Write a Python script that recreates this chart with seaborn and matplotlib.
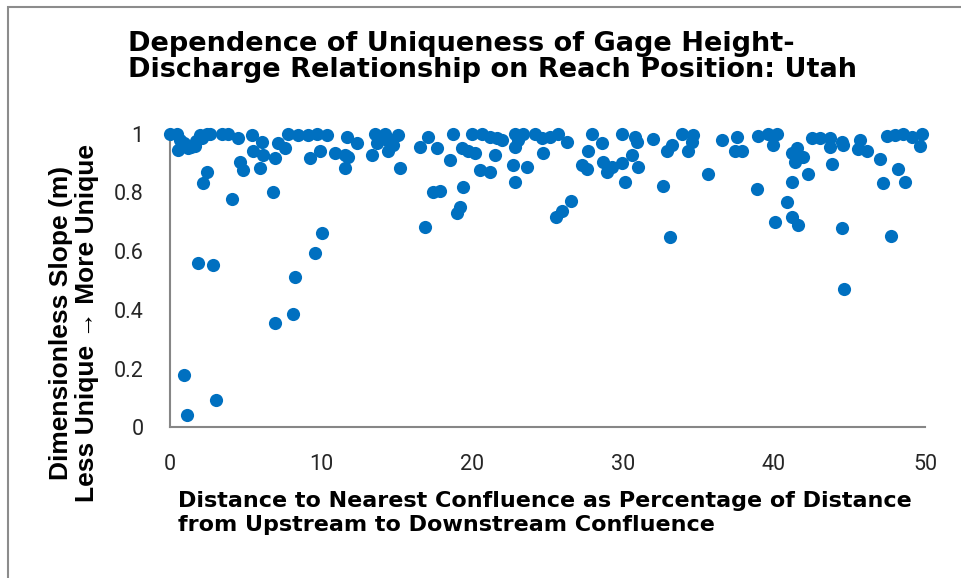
import matplotlib
matplotlib.use("Agg")
import matplotlib.pyplot as plt
import seaborn as sns
import pandas as pd
from matplotlib.patches import Rectangle

# distance to nearest confluence (%), dimensionless slope (m)
x_pos = [
    0.00, 0.44, 0.66, 0.55, 1.21, 1.66, 1.99, 2.43, 2.65, 3.42, 3.86, 4.52, 5.41, 6.07,
    7.17, 7.62, 7.84, 8.50, 9.16, 9.71, 10.38, 11.70, 12.36, 5.52, 6.18, 4.64, 4.86, 5.96,
    6.95, 9.27, 9.93, 10.93, 11.59, 11.81, 11.59, 2.43, 2.21, 4.08, 6.84, 10.04, 9.60,
    1.88, 2.83, 8.28, 8.17, 6.95, 0.95, 3.05, 1.10, 0.90, 1.40, 2.10, 1.70,
    13.36, 13.58, 14.24, 13.69, 14.35, 14.79, 14.46, 15.12, 15.23, 16.56, 17.11, 17.66,
    18.54, 17.44, 17.88, 16.89, 18.76, 19.42, 19.20, 19.03, 19.32, 19.75, 20.20, 19.98,
    20.64, 21.19, 21.64, 21.97, 21.52, 20.53, 21.19, 22.85, 23.40, 22.85, 23.07, 22.74,
    23.62, 22.85, 24.17, 24.72, 24.61, 25.17,
    25.72, 26.27, 27.93, 28.59, 27.70, 27.26, 27.59, 28.70, 28.92, 29.25, 29.91, 30.58,
    31.01, 30.13, 29.91, 30.79, 30.90, 32.00, 32.67, 33.11, 32.89, 33.22, 33.89, 34.33,
    34.66, 34.55, 35.65, 36.54, 37.42, 37.53, 26.54, 25.94, 25.56,
    37.86, 38.96, 39.62, 40.18, 39.95, 38.85, 41.17, 41.50, 41.39, 41.94, 41.17, 42.27,
    40.84, 41.17, 41.61, 40.07, 42.50, 43.05, 43.71, 43.71, 44.48, 44.59, 43.82, 44.48,
    45.70, 45.58, 46.14, 47.02, 47.24, 47.46, 48.01, 48.57, 49.12, 49.78, 49.67, 48.23,
    48.67, 47.75, 44.64,
]
slope_m = [
    1.00, 1.00, 0.98, 0.945, 0.95, 0.96, 0.996, 1.00, 1.00, 1.00, 1.00, 0.985, 0.996, 0.973,
    0.968, 0.95, 1.00, 0.996, 0.996, 1.00, 0.996, 0.99, 0.968, 0.94, 0.928, 0.905, 0.877, 0.882,
    0.917, 0.917, 0.94, 0.934, 0.928, 0.922, 0.882, 0.871, 0.831, 0.777, 0.803, 0.663, 0.593,
    0.561, 0.553, 0.511, 0.386, 0.354, 0.178, 0.093, 0.042, 0.97, 0.955, 0.985, 0.975,
    0.928, 1.00, 1.00, 0.968, 0.979, 0.962, 0.94, 0.996, 0.882, 0.956, 0.99, 0.95,
    0.91, 0.803, 0.806, 0.683, 1.00, 0.82, 0.752, 0.731, 0.95, 0.94, 0.934, 1.00,
    1.00, 0.99, 0.985, 0.979, 0.928, 0.877, 0.871, 1.00, 1.00, 0.956, 0.979, 0.894,
    0.888, 0.837, 1.00, 0.934, 0.985, 0.99,
    1.00, 0.973, 1.00, 0.968, 0.94, 0.894, 0.879, 0.905, 0.871, 0.888, 0.90, 0.928,
    0.888, 0.837, 0.999, 0.99, 0.973, 0.982, 0.823, 0.649, 0.94, 0.962, 1.00, 0.94,
    0.996, 0.973, 0.862, 0.979, 0.94, 0.99, 0.772, 0.738, 0.715,
    0.94, 0.992, 1.00, 1.00, 0.962, 0.811, 0.934, 0.95, 0.905, 0.922, 0.837, 0.863,
    0.769, 0.718, 0.689, 0.698, 0.985, 0.985, 0.985, 0.956, 0.973, 0.962, 0.896, 0.68,
    0.979, 0.947, 0.94, 0.913, 0.831, 0.992, 0.996, 1.00, 0.99, 1.00, 0.958, 0.879,
    0.837, 0.653, 0.47,
]

x_ticks = [0, 10, 20, 30, 40, 50]
y_ticks = [0, 0.2, 0.4, 0.6, 0.8, 1]
y_tick_labels = ["0", "0.2", "0.4", "0.6", "0.8", "1"]

title = "Dependence of Uniqueness of Gage Height-\nDischarge Relationship on Reach Position: Utah"
xlabel = ("Distance to Nearest Confluence as Percentage of Distance\n"
          "from Upstream to Downstream Confluence")
ylabel = "Dimensionless Slope (m)\nLess Unique \u2192 More Unique"

df = pd.DataFrame({"dist": x_pos, "slope": slope_m})

sns.set_theme(style="white")
plt.rcParams["font.family"] = ["Liberation Sans", "DejaVu Sans"]
plt.rcParams["text.color"] = "black"

W, H = 961, 578
fig = plt.figure(figsize=(W / 100, H / 100), dpi=100)
ax = fig.add_axes([170 / W, 1 - 427.3 / H, 755 / W, 293.5 / H])

sns.scatterplot(data=df, x="dist", y="slope", ax=ax, color="#0070C0",
                s=90, linewidth=0, clip_on=False, zorder=3)

ax.set_xlim(0, 50)
ax.set_ylim(0, 1)
ax.set_xticks(x_ticks)
ax.set_yticks(y_ticks)
ax.set_yticklabels(y_tick_labels)
ax.set_xlabel("")
ax.set_ylabel("")

axis_grey = "#868686"
for side in ["top", "right"]:
    ax.spines[side].set_visible(False)
for side in ["left", "bottom"]:
    ax.spines[side].set_color(axis_grey)
    ax.spines[side].set_linewidth(1.5)
ax.tick_params(axis="both", direction="out", length=6, width=1.5, color=axis_grey,
               labelsize=15.5, labelcolor="#262626")
ax.tick_params(axis="x", pad=13)
ax.tick_params(axis="y", pad=13)
for lab in ax.get_xticklabels() + ax.get_yticklabels():
    lab.set_family(["Roboto", "DejaVu Sans"])

fig.text(128 / W, 1 - 31 / H, title, ha="left", va="top", fontsize=19.5,
         fontweight="bold", family="DejaVu Sans", linespacing=1.0)
fig.text(178 / W, 1 - 491 / H, xlabel, ha="left", va="top", fontsize=16,
         fontweight="bold", family="DejaVu Sans", linespacing=1.25)
fig.text(74 / W, 1 - 323 / H, ylabel, ha="center", va="center", rotation=90,
         fontsize=19, fontweight="bold", linespacing=1.15, multialignment="center")

# outer chart border
fig.patches.append(Rectangle((8 / W, -0.05), 1.2, 1 - 7 / H + 0.05,
                             transform=fig.transFigure, fill=False,
                             edgecolor="#8c8c8c", linewidth=1.5))

fig.savefig("out.png", dpi=100)
